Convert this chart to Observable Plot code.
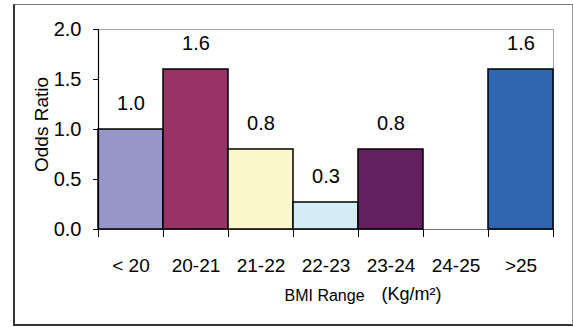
<!DOCTYPE html>
<html>
<head>
<meta charset="utf-8">
<script src="https://cdn.jsdelivr.net/npm/d3@7"></script>
<script src="https://cdn.jsdelivr.net/npm/@observablehq/plot@0.6"></script>
<style>
  html, body { margin: 0; padding: 0; background: #fff; }
  #chart { position: relative; width: 573px; height: 327px; overflow: hidden; }
  #chart svg { display: block; }
  #border {
    position: absolute; left: 13px; top: 4px; width: 557px; height: 319px;
    border-top: 1px solid #777; border-right: 1px solid #999;
    border-left: 2px solid #333; border-bottom: 2px solid #333;
    pointer-events: none;
  }
</style>
</head>
<body>
<div id="chart"><div id="border"></div></div>
<script>
// BMI categories and the odds ratio for each (no estimate for 24-25)
const categories = ["< 20", "20-21", "21-22", "22-23", "23-24", "24-25", ">25"];
const oddsRatios = [1.0, 1.6, 0.8, 0.27, 0.8, null, 1.6];
const barColors = ["#9696c8", "#993366", "#fbf8cd", "#d4ecf3", "#622060", null, "#2f66b0"];
const yTicks = [0, 0.5, 1.0, 1.5, 2.0];
const yTitle = "Odds Ratio";
const xTitle = "BMI Range";
const xUnit = "(Kg/m\u00b2)";

const rows = categories.map((category, index) => ({
  category, index, value: oddsRatios[index], color: barColors[index]
}));
const bars = rows.filter(d => d.value != null);

const font = "'Liberation Sans', Arial, Helvetica, sans-serif";

const chart = Plot.plot({
  width: 573,
  height: 327,
  marginLeft: 98,
  marginRight: 20,
  marginTop: 29,
  marginBottom: 98,
  style: { fontFamily: font, fontSize: "20px", color: "#000", background: "transparent" },
  x: { type: "linear", domain: [0, categories.length] },
  y: { domain: [0, 2] },
  marks: [
    Plot.frame({ stroke: "#a6a6a6" }),
    Plot.ruleY([0], { stroke: "#777" }),
    Plot.rectY(bars, {
      x1: "index", x2: d => d.index + 1, y: "value",
      fill: "color", stroke: "#000", strokeWidth: 1.5
    }),
    Plot.ruleX([0], { stroke: "#000", strokeWidth: 1.2 }),
    Plot.axisY({
      ticks: yTicks, tickFormat: d3.format(".1f"), tickSize: 5, tickPadding: 12,
      label: null, fontSize: 20
    }),
    // tick marks on the category boundaries
    Plot.axisX({
      ticks: d3.range(categories.length + 1), tickSize: 8,
      tickFormat: () => "", label: null
    }),
    // category names centred in each band
    Plot.axisX({
      ticks: d3.range(categories.length).map(i => i + 0.5), tickSize: 0, tickPadding: 29,
      tickFormat: v => categories[Math.floor(v)], label: null, fontSize: 19
    }),
    Plot.text(bars, {
      x: d => d.index + 0.5, y: "value", text: d => d.value.toFixed(1),
      dy: -26, lineAnchor: "middle", fontSize: 20
    }),
    Plot.text([yTitle], {
      frameAnchor: "left", textAnchor: "middle", lineAnchor: "middle",
      rotate: -90, dx: -57, dy: -5, fontSize: 19
    }),
    Plot.text([xTitle], {
      frameAnchor: "bottom", textAnchor: "start", lineAnchor: "middle",
      dx: -41.5, dy: 66, fontSize: 16
    }),
    Plot.text([xUnit], {
      frameAnchor: "bottom", textAnchor: "start", lineAnchor: "middle",
      dx: 55.5, dy: 65, fontSize: 18
    })
  ]
});

document.getElementById("chart").prepend(chart);
</script>
</body>
</html>
